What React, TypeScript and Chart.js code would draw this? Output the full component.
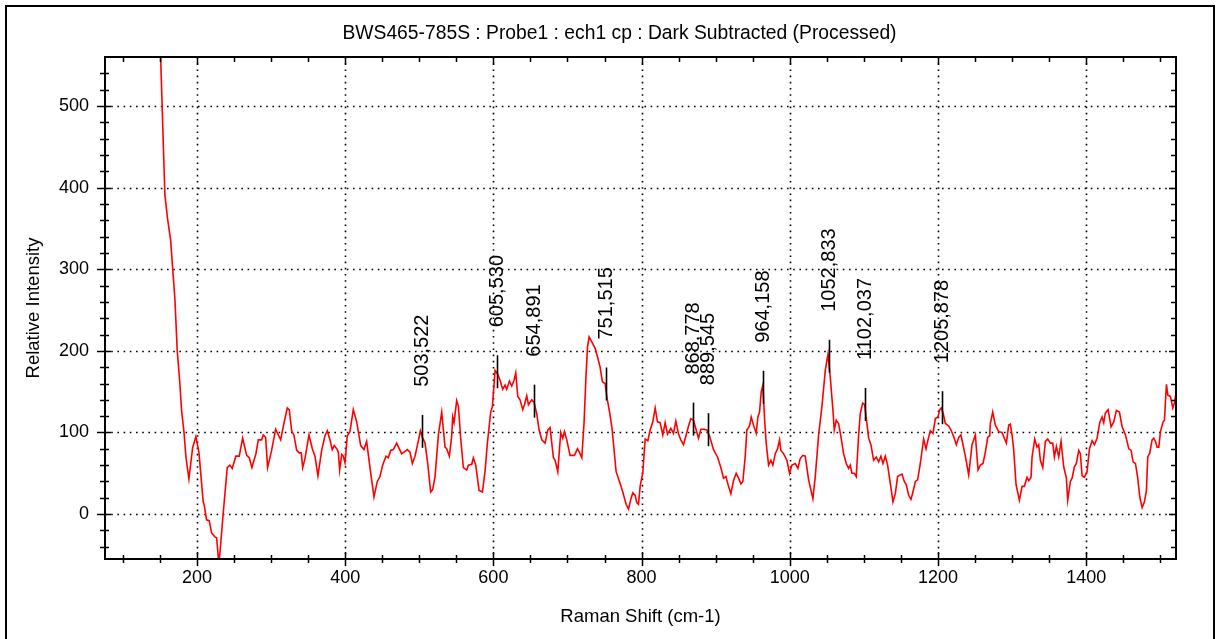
import React, { useEffect, useRef } from "react";
import { Chart, registerables } from "chart.js";

Chart.register(...registerables);

const FONT = '"Liberation Sans", Arial, Helvetica, sans-serif';

const chartTitle = "BWS465-785S : Probe1 : ech1 cp : Dark Subtracted (Processed)";
const xAxisTitle = "Raman Shift (cm-1)";
const yAxisTitle = "Relative Intensity";

const ramanShift = [
  148, 156.8, 160.4, 164.5, 170.3, 173.4, 177, 179.3, 182.5, 185.2, 189.2, 194.2, 198.6, 202.7, 206.3, 208.5,
  209.9, 213, 216.6, 219.8, 224.3, 226.6, 229.7, 235.5, 240.9, 244.5, 247.6, 252.6, 257.1, 261.7, 267.1, 270.6,
  274.2, 279.6, 282.8, 287.3, 289.5, 292.7, 295.4, 300.8, 306.2, 313, 317.4, 321.9, 324.6, 327.8, 330.9, 334.6,
  338.1, 340.8, 342.7, 345.8, 351.2, 355.7, 359.3, 363.3, 368.3, 372.8, 375.9, 379.5, 382.6, 385.3, 389.4, 390.8,
  392.6, 395.3, 397.5, 399.8, 402.9, 406.5, 411, 415.6, 421, 425.4, 429, 433.5, 438.9, 443.4, 447, 450.6,
  455.1, 458.3, 461.4, 465, 469.5, 473.1, 476.3, 479.4, 483.9, 487.5, 490.7, 494.3, 498.8, 501.5, 504.2, 507.8,
  511.4, 515.4, 518.1, 521.3, 525.8, 530.3, 534.8, 537, 540.6, 543.8, 545.1, 546.9, 550.5, 552.8, 555.9, 559.5,
  564, 566.3, 570.8, 573, 576.2, 580.7, 585.2, 588.8, 591.9, 596.4, 598.7, 602.3, 605.5, 609, 612.6, 615.8,
  618, 621.6, 624.8, 627.9, 630.2, 632.9, 636, 639.6, 641.9, 645, 647.3, 651.8, 654.9, 658.5, 661.7, 665.3,
  669.8, 673.4, 676.5, 681, 683.3, 686.9, 690.9, 693.6, 695.9, 699, 703.5, 709.4, 713.4, 716.1, 719.3, 722.4,
  725, 727, 729.2, 732.8, 735, 737.3, 740.4, 744, 747.1, 750.8, 753, 756.6, 759.8, 762, 765.6, 770.1,
  774.6, 779.1, 782.3, 785.4, 788.1, 791.3, 793.5, 795.8, 798, 801.6, 804.8, 808.4, 811.5, 815.1, 818.3, 821.4,
  825, 828.6, 831.8, 834.9, 839.4, 843, 846.2, 849.8, 852.9, 856.5, 860.1, 863.3, 866.4, 870, 873.6, 876.8,
  879.9, 884.4, 888, 891.6, 897, 902.4, 906.9, 910.5, 913.7, 917.3, 920.4, 924, 927.6, 930.8, 933.9, 936.6,
  939.8, 942, 945.6, 947.9, 951, 954.6, 956.9, 959.1, 961.4, 963.6, 966, 968.1, 971.3, 974.4, 977.1, 980.3,
  983.4, 986.1, 987.9, 991.5, 996, 999.6, 1002.8, 1007.3, 1010.9, 1014, 1017.6, 1020.8, 1025.3, 1031.1, 1034.3, 1038.8,
  1043.3, 1047.8, 1051.5, 1054.5, 1058.1, 1059.9, 1062.6, 1065.8, 1068.9, 1072.5, 1076.1, 1079.3, 1081.5, 1083.8, 1086.9, 1089.6,
  1092.8, 1095, 1098.2, 1100.9, 1104, 1106.3, 1109.4, 1113, 1116.6, 1119.8, 1122.9, 1125.6, 1128.8, 1131.9, 1135.5, 1139.1,
  1142.3, 1145.4, 1149, 1151.3, 1154.4, 1157.1, 1160.3, 1163.4, 1166.1, 1169.3, 1172.4, 1176, 1180.5, 1183.7, 1186.4, 1189.5,
  1193.1, 1196.3, 1199.9, 1202.1, 1204.4, 1207, 1209.8, 1214.3, 1217.4, 1221, 1224.6, 1227.8, 1230.9, 1233.6, 1236.8, 1241.3,
  1245.8, 1250.3, 1253.9, 1257, 1260.6, 1263.8, 1266.9, 1269.6, 1270.5, 1273.7, 1277.3, 1281.8, 1286.3, 1289.4, 1292.1, 1295.3,
  1297.5, 1299.8, 1302, 1305.2, 1309.7, 1313.3, 1316.4, 1320, 1322.3, 1325.4, 1326.8, 1330.4, 1333.5, 1335.8, 1338, 1341.2,
  1344.8, 1347.9, 1351.5, 1354.7, 1356.9, 1359.6, 1362.8, 1365.9, 1369.5, 1373.1, 1374.9, 1378.5, 1380.8, 1383.9, 1386.6, 1389.8,
  1392, 1394.3, 1397.4, 1401, 1404.2, 1407.8, 1410.9, 1414.5, 1418.1, 1421.3, 1423.5, 1425.8, 1429.4, 1433.4, 1437, 1440.6,
  1444.7, 1448.3, 1452.8, 1457.3, 1460.4, 1463.1, 1466.3, 1469.4, 1472.1, 1475.3, 1478.4, 1481.1, 1482.9, 1485.6, 1488.8, 1491,
  1493.3, 1495.5, 1497.8, 1500, 1503.6, 1505.4, 1508.1, 1509.9, 1513.5, 1516.7, 1518.9, 1521.2,
];

const intensity = [
  650, 391, 362, 336, 264, 201, 160, 127, 101, 70, 43, 81, 95, 76, 38, 15,
  11, -7, -8, -23, -28, -29, -62, 1, 57, 60, 56, 71, 71, 93, 72, 69,
  57, 74, 91, 91, 97, 94, 57, 78, 104, 91, 111, 130, 128, 102, 97, 78,
  75, 75, 57, 68, 97, 80, 71, 47, 78, 96, 102, 91, 79, 84, 79, 76,
  54, 73, 71, 63, 96, 101, 128, 113, 84, 79, 89, 57, 21, 40, 46, 60,
  71, 69, 78, 79, 87, 80, 74, 76, 79, 76, 62, 71, 90, 102, 94, 87,
  62, 27, 30, 46, 97, 125, 82, 80, 71, 96, 119, 112, 139, 132, 93, 57,
  54, 60, 61, 69, 60, 29, 27, 53, 87, 125, 132, 176, 172, 164, 153, 158,
  153, 163, 157, 164, 173, 144, 140, 128, 134, 145, 134, 140, 137, 123, 103, 91,
  87, 103, 106, 69, 66, 52, 100, 93, 101, 91, 72, 72, 80, 76, 69, 113,
  170, 205, 217, 211, 207, 203, 193, 180, 162, 160, 144, 126, 107, 87, 52, 40,
  27, 12, 6, 18, 26, 23, 14, 12, 34, 51, 92, 90, 103, 113, 130, 113,
  112, 97, 112, 98, 105, 99, 114, 98, 91, 85, 97, 108, 117, 115, 103, 93,
  104, 104, 103, 96, 79, 70, 57, 44, 46, 34, 25, 41, 50, 44, 37, 40,
  71, 103, 108, 119, 109, 99, 119, 125, 150, 158, 115, 87, 60, 66, 60, 74,
  80, 91, 78, 74, 66, 50, 60, 62, 56, 68, 72, 71, 42, 19, 46, 97,
  132, 176, 196, 168, 128, 103, 115, 111, 95, 74, 62, 56, 60, 50, 50, 46,
  97, 123, 136, 134, 111, 93, 85, 66, 70, 64, 71, 62, 71, 60, 38, 15,
  25, 46, 48, 49, 40, 36, 23, 18, 27, 40, 42, 62, 92, 80, 91, 102,
  99, 117, 119, 128, 130, 123, 111, 108, 103, 95, 85, 94, 97, 85, 71, 48,
  85, 97, 54, 60, 62, 76, 94, 96, 111, 125, 109, 101, 100, 93, 87, 109,
  110, 97, 79, 36, 17, 34, 34, 45, 41, 45, 70, 92, 82, 85, 66, 57,
  89, 92, 87, 87, 70, 83, 70, 89, 58, 44, 17, 40, 44, 58, 62, 78,
  74, 47, 45, 52, 80, 90, 85, 93, 112, 119, 112, 124, 128, 107, 113, 127,
  125, 107, 97, 80, 78, 64, 62, 44, 21, 8, 15, 29, 70, 75, 91, 93,
  89, 82, 82, 101, 113, 115, 159, 146, 144, 130, 136, 150,
];

const peakShifts = [503.522, 605.53, 654.891, 751.515, 868.778, 889.545, 964.158, 1052.833, 1102.037, 1205.878];
const peakIntensities = [102, 175, 139, 160, 117, 104, 156, 194, 135, 131];

const xMajorTicks = [200, 400, 600, 800, 1000, 1200, 1400];
const xMinorTicks = [
  100, 150, 250, 300, 350, 450, 500, 550, 650, 700, 750, 850, 900, 950, 1050, 1100, 1150, 1250, 1300, 1350, 1450, 1500,
];
const yMajorTicks = [0, 100, 200, 300, 400, 500];
const yMinorTicks = [
  -40, -20, 20, 40, 60, 80, 120, 140, 160, 180, 220, 240, 260, 280, 320, 340, 360, 380, 420, 440, 460, 480, 520, 540,
];

const formatPeak = (v: number) => v.toFixed(3).replace(".", ",");

const decorPlugin = {
  id: "decor",
  beforeDatasetsDraw(chart: any) {
    const { ctx, chartArea: a, scales } = chart;
    const xs = scales.x;
    const ys = scales.y;
    ctx.save();
    ctx.strokeStyle = "#000";
    ctx.lineWidth = 1.6;
    ctx.setLineDash([1.6, 4.6]);
    for (const v of xMajorTicks) {
      const px = Math.round(xs.getPixelForValue(v)) + 0.5;
      ctx.beginPath();
      ctx.moveTo(px, a.top);
      ctx.lineTo(px, a.bottom);
      ctx.stroke();
    }
    for (const v of yMajorTicks) {
      const py = Math.round(ys.getPixelForValue(v)) + 0.5;
      ctx.beginPath();
      ctx.moveTo(a.left, py);
      ctx.lineTo(a.right, py);
      ctx.stroke();
    }
    ctx.restore();
  },
  afterDatasetsDraw(chart: any) {
    const { ctx, chartArea: a, scales } = chart;
    const xs = scales.x;
    const ys = scales.y;
    ctx.save();
    ctx.setLineDash([]);
    ctx.strokeStyle = "#000";

    // plot frame
    ctx.lineWidth = 2;
    ctx.strokeRect(a.left, a.top, a.right - a.left, a.bottom - a.top);

    // tick marks
    ctx.lineWidth = 1.5;
    const vLine = (x: number, y1: number, y2: number) => {
      ctx.beginPath();
      ctx.moveTo(x, y1);
      ctx.lineTo(x, y2);
      ctx.stroke();
    };
    const hLine = (y: number, x1: number, x2: number) => {
      ctx.beginPath();
      ctx.moveTo(x1, y);
      ctx.lineTo(x2, y);
      ctx.stroke();
    };
    for (const v of xMinorTicks) {
      const px = Math.round(xs.getPixelForValue(v)) + 0.5;
      vLine(px, a.bottom - 4, a.bottom + 4);
      vLine(px, a.top, a.top + 5);
    }
    for (const v of xMajorTicks) {
      const px = Math.round(xs.getPixelForValue(v)) + 0.5;
      vLine(px, a.bottom - 7, a.bottom + 7);
      vLine(px, a.top, a.top + 8);
    }
    for (const v of yMinorTicks) {
      const py = Math.round(ys.getPixelForValue(v)) + 0.5;
      hLine(py, a.left - 5, a.left + 4);
      hLine(py, a.right - 5, a.right);
    }
    for (const v of yMajorTicks) {
      const py = Math.round(ys.getPixelForValue(v)) + 0.5;
      hLine(py, a.left - 8, a.left + 6);
      hLine(py, a.right - 7, a.right);
    }

    // peak markers
    ctx.fillStyle = "#000";
    ctx.font = `20px ${FONT}`;
    peakShifts.forEach((s, i) => {
      const px = Math.round(xs.getPixelForValue(s)) + 0.5;
      const py = ys.getPixelForValue(peakIntensities[i]);
      ctx.lineWidth = 1.6;
      vLine(px, py - 16, py + 17);
      ctx.save();
      ctx.translate(px, py - 16 - 28);
      ctx.rotate(-Math.PI / 2);
      ctx.textAlign = "left";
      ctx.textBaseline = "middle";
      ctx.fillText(formatPeak(s), 0, 0);
      ctx.restore();
    });

    // chart title
    ctx.font = `19.3px ${FONT}`;
    ctx.textAlign = "center";
    ctx.textBaseline = "alphabetic";
    ctx.fillText(chartTitle, 619.5, 39);

    // outer border
    ctx.lineWidth = 2;
    ctx.beginPath();
    ctx.moveTo(6, 645);
    ctx.lineTo(6, 6);
    ctx.lineTo(1214, 6);
    ctx.lineTo(1214, 645);
    ctx.stroke();
    ctx.restore();
  },
};

export default function App() {
  const canvasRef = useRef<HTMLCanvasElement | null>(null);

  useEffect(() => {
    if (!canvasRef.current) return;
    const points = ramanShift.map((x, i) => ({ x, y: intensity[i] }));
    const chart = new Chart(canvasRef.current, {
      type: "line",
      data: {
        datasets: [
          {
            data: points,
            borderColor: "#ff0000",
            borderWidth: 1.6,
            pointRadius: 0,
            tension: 0,
            fill: false,
          },
        ],
      },
      options: {
        animation: false,
        responsive: true,
        maintainAspectRatio: false,
        layout: { padding: { top: 57, right: 40, left: 0, bottom: 0 } },
        plugins: {
          legend: { display: false },
          title: { display: false },
          tooltip: { enabled: false },
        },
        scales: {
          x: {
            type: "linear",
            min: 76,
            max: 1521,
            grid: { display: false, drawTicks: false },
            border: { display: false },
            afterBuildTicks: (s: any) => {
              s.ticks = xMajorTicks.map((v) => ({ value: v }));
            },
            afterFit: (s: any) => {
              s.height = 80;
            },
            ticks: {
              padding: 8,
              color: "#000",
              font: { family: FONT, size: 18 },
              autoSkip: false,
              maxRotation: 0,
              callback: (v: any) => String(v),
            },
            title: {
              display: true,
              text: xAxisTitle,
              color: "#000",
              font: { family: FONT, size: 18.5 },
              padding: { top: 0, bottom: 11 },
            },
          },
          y: {
            type: "linear",
            min: -55,
            max: 560,
            grid: { display: false, drawTicks: false },
            border: { display: false },
            afterBuildTicks: (s: any) => {
              s.ticks = yMajorTicks.map((v) => ({ value: v }));
            },
            afterFit: (s: any) => {
              s.width = 105;
            },
            ticks: {
              padding: 16,
              color: "#000",
              font: { family: FONT, size: 18 },
              autoSkip: false,
              callback: (v: any) => String(v),
            },
            title: {
              display: true,
              text: yAxisTitle,
              color: "#000",
              font: { family: FONT, size: 18.5 },
              padding: { top: 22.7, bottom: 0 },
            },
          },
        },
      },
      plugins: [decorPlugin],
    });
    return () => chart.destroy();
  }, []);

  return (
    <div style={{ position: "fixed", left: 0, top: 0, width: 1216, height: 639, background: "#fff" }}>
      <canvas ref={canvasRef} />
    </div>
  );
}
